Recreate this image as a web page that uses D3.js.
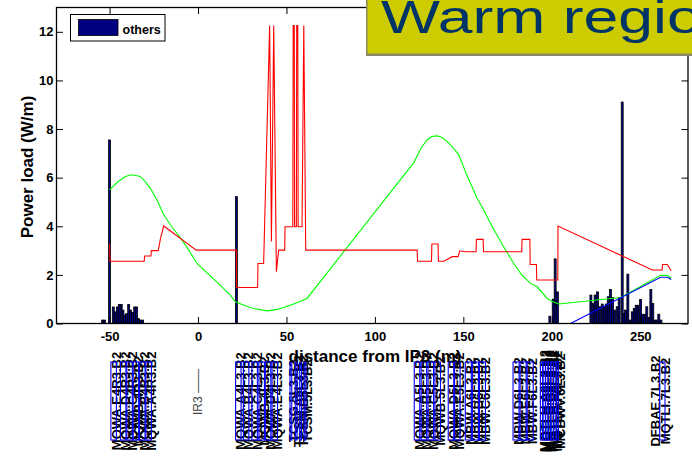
<!DOCTYPE html>
<html><head><meta charset="utf-8">
<script src="https://cdn.jsdelivr.net/npm/d3@7"></script>
<style>
body{margin:0;background:#fff;}
svg{display:block;font-family:"Liberation Sans",Arial,Helvetica,sans-serif;}
</style></head><body>
<svg id="chart" width="692" height="457"></svg>
<script>
// Axis ticks
const xTicks = [-50, 0, 50, 100, 150, 200, 250];
const yTicks = [0, 2, 4, 6, 8, 10, 12];

// Red curve: stepwise power load profile (s in m, W/m)
const redS = [-50, -49.8, -30.4, -30.2, -26.6, -26.4, -22.5, -21.2, -19.4, -1, 21.7, 21.8, 33.7, 33.9, 37.1,
  40.5, 41.5, 42.8, 44.3, 45.6, 49.0, 49.2, 53.6, 53.8, 54.4, 54.6, 55.6, 55.8, 56.4, 56.6, 58.8, 59.8, 60.9,
  123.9, 124.1, 132.0, 132.2, 135.7, 135.9, 139.0, 143.7, 147.0, 148.0, 151.2, 157.2, 157.4, 161.2, 161.4,
  183.0, 183.2, 187.6, 187.8, 191.3, 191.5, 203.4, 203.5, 256.8, 262.4, 262.6, 265.3, 267.5];
const redLoad = [3.27, 2.56, 2.56, 2.78, 2.78, 3.0, 3.0, 3.5, 4.01, 3.02, 3.02, 1.48, 1.48, 2.47, 2.47,
  12.26, 3.37, 12.26, 2.13, 3.02, 3.02, 3.98, 3.98, 12.26, 12.26, 3.98, 3.98, 12.26, 12.26, 3.98, 3.98, 12.26, 3.02,
  3.02, 2.56, 2.56, 3.27, 3.27, 2.56, 2.56, 2.75, 2.75, 2.99, 2.95, 2.95, 3.46, 3.46, 2.95,
  2.95, 3.46, 3.46, 2.43, 2.43, 1.79, 1.79, 4.01, 2.2, 2.2, 2.43, 2.43, 2.17];

// Green curve
const greenS = [-50, -45, -41, -38, -34.5, -32.6, -30, -27, -23, -19.4, -15, -10.4, -5, -0.6, 10, 18.3, 21.1,
  26, 31.5, 39, 44.7, 52.2, 57, 61.6, 122, 126, 129.5, 132.5, 135.2, 138, 140.8, 144, 147.4, 152, 157.8,
  161.5, 165.3, 172, 178.5, 183, 188, 191.7, 197.4, 200, 204, 239, 261.5, 265.5, 267.5];
const greenVal = [5.5, 5.85, 6.05, 6.12, 6.08, 6.05, 5.85, 5.57, 5.05, 4.47, 4.0, 3.57, 3.0, 2.47, 1.75, 1.17, 0.89,
  0.75, 0.62, 0.52, 0.58, 0.75, 0.88, 1.03, 6.62, 7.2, 7.56, 7.7, 7.72, 7.65, 7.49, 7.25, 6.94, 6.1, 5.15,
  4.67, 4.12, 3.25, 2.47, 2.0, 1.65, 1.51, 1.03, 0.92, 0.8, 1.07, 1.98, 1.98, 1.86];

// Blue curve
const blueS = [210.6, 261.5, 265.5, 267.5];
const blueVal = [0, 1.9, 1.9, 1.81];

// Histogram of "others" losses
const barS = [-53.9, -52.8, -50.0, -47.9, -46.8, -45.6, -44.5, -43.4, -42.4, -41.5, -40.4, -39.2, -38.1, -37.0,
  -35.8, -34.7, -33.6, -32.5, -31.3, 21.7, 198.9, 200.8, 201.9, 203.2,
  222.1, 223.4, 224.5, 225.8, 227.2, 228.5, 229.6, 230.8, 231.9, 233.2, 234.3, 235.6, 237.0, 238.1, 239.8,
  240.7, 241.7, 243.0, 244.3, 245.5, 246.6, 247.7, 248.8, 250.2, 251.3, 252.6, 253.7, 254.9, 256.0, 257.1,
  258.3, 259.4, 260.5, 261.7];
const barLoad = [0.14, 0.14, 7.55, 0.68, 0.48, 0.68, 0.78, 0.78, 0.55, 0.34, 0.4, 0.78, 0.55, 0.45,
  0.68, 0.68, 0.2, 0.14, 0.14, 5.22, 0.3, 1.0, 2.66, 1.3,
  1.17, 0.82, 1.17, 1.3, 0.69, 0.8, 0.69, 0.8, 1.1, 1.4, 1.07, 0.55, 0.69, 1.07, 9.11,
  0.41, 0.55, 2.03, 0.14, 0.48, 0.62, 0.75, 0.75, 0.99, 0.38, 0.38, 0.69, 0.25, 1.4, 0.82,
  0.14, 0.14, 0.38, 0.14];
const barWidth = 1.1;

// Beamline elements shown under the axis
const elementNames = ["MQWA.E4R3.B2", "MQWA.D4R3.B2", "MQWA.C4R3.B2", "MQWB.4R3.B2", "MQWA.B4R3.B2", "MQWA.A4R3.B2",
  "MQWA.A4L3.B2", "MQWA.B4L3.B2", "MQWA.C4L3.B2", "MQWB.4L3.B2", "MQWA.D4L3.B2", "MQWA.E4L3.B2",
  "TCSG.5L3.B2", "TCSM.A5L3.B2", "TCSM.B5L3.B2", "TCSM.5L3.B2",
  "MQWA.A5L3.B2", "MQWA.B5L3.B2", "MQWA.C5L3.B2", "MQWB.5L3.B2", "MQWA.D5L3.B2", "MQWA.E5L3.B2",
  "MBW.A6L3.B2", "MBW.B6L3.B2", "MBW.C6L3.B2", "MBW.D6L3.B2", "MBW.E6L3.B2", "MBW.F6L3.B2",
  "MQTLH.A6L3.B2", "MQTLH.B6L3.B2", "MQTLH.C6L3.B2", "MQTLH.D6L3.B2", "MQTLH.E6L3.B2", "MQTLH.F6L3.B2", "MCBWV.6L3.B2",
  "DFBAE.7L3.B2", "MQTLI.7L3.B2"];
const elementS = [-47.7, -42.3, -38.7, -35.1, -31.5, -27.9,
  22.8, 27.2, 32.0, 36.0, 39.6, 43.4,
  52.5, 55.5, 58.0, 60.5,
  123.8, 127.7, 131.6, 135.5, 143.0, 146.6,
  152.8, 156.8, 160.8, 179.8, 183.8, 187.8,
  194.2, 195.7, 197.2, 198.7, 200.2, 201.7, 203.2,
  257.0, 262.5];
const elementLen = [3.1, 3.1, 3.1, 3.1, 3.1, 3.1,
  3.1, 3.1, 3.1, 3.1, 3.1, 3.1,
  1.0, 1.0, 1.0, 1.0,
  3.1, 3.1, 3.1, 3.1, 3.1, 3.1,
  3.4, 3.4, 3.4, 3.4, 3.4, 3.4,
  1.3, 1.3, 1.3, 1.3, 1.3, 1.3, 1.0,
  0, 3.0];

const svg = d3.select("#chart");
const W = 692, H = 457;
const x = d3.scaleLinear().domain([-80, 277]).range([56.5, 688]);
const y = d3.scaleLinear().domain([0, 13]).range([323.5, 7.5]);
const x0 = x.range()[0], x1 = x.range()[1], y0 = y.range()[0], y1 = y.range()[1];

svg.append("rect").attr("width", W).attr("height", H).attr("fill", "#fff");

svg.append("defs").append("clipPath").attr("id", "plotClip")
  .append("rect").attr("x", x0).attr("y", y1).attr("width", x1 - x0).attr("height", y0 - y1);

const plot = svg.append("g").attr("clip-path", "url(#plotClip)");

// bars
plot.append("g").selectAll("rect").data(barS.map((s, i) => ({ s, v: barLoad[i] })))
  .join("rect")
  .attr("x", d => x(d.s - barWidth / 2))
  .attr("width", d => x(d.s + barWidth / 2) - x(d.s - barWidth / 2))
  .attr("y", d => y(d.v))
  .attr("height", d => y(0) - y(d.v))
  .attr("fill", "#000080")
  .attr("stroke", "#000")
  .attr("stroke-width", 0.8);

const line = d3.line().x(d => x(d[0])).y(d => y(d[1]));
function drawLine(sArr, vArr, color) {
  plot.append("path").datum(sArr.map((s, i) => [s, vArr[i]]))
    .attr("d", line).attr("fill", "none").attr("stroke", color).attr("stroke-width", 1.1)
    .attr("stroke-linejoin", "miter");
}
drawLine(greenS, greenVal, "#00ff00");
drawLine(blueS, blueVal, "#0000ff");
drawLine(redS, redLoad, "#ff0000");

// axes frame and ticks
const axes = svg.append("g");
axes.append("rect").attr("x", x0).attr("y", y1).attr("width", x1 - x0).attr("height", y0 - y1)
  .attr("fill", "none").attr("stroke", "#000").attr("stroke-width", 1.3);

const tickLen = 6.5;
const xAxisB = d3.axisBottom(x).tickValues(xTicks).tickSize(-tickLen).tickPadding(8).tickFormat(d3.format("d"));
const xAxisT = d3.axisTop(x).tickValues(xTicks).tickSize(-tickLen).tickFormat("");
const yAxisL = d3.axisLeft(y).tickValues(yTicks).tickSize(-tickLen).tickPadding(3).tickFormat(d3.format("d"));
const yAxisR = d3.axisRight(y).tickValues(yTicks).tickSize(-tickLen).tickFormat("");

function styleAxis(g) {
  g.select(".domain").remove();
  g.selectAll(".tick line").attr("stroke", "#000").attr("stroke-width", 1);
  g.selectAll(".tick text").attr("fill", "#000").attr("font-size", 13).attr("font-weight", "bold")
    .attr("font-family", "'Liberation Sans', Arial, sans-serif");
}
axes.append("g").attr("transform", `translate(0,${y0})`).call(xAxisB).call(styleAxis)
  .selectAll(".tick text").text(d => d < 0 ? "-" + Math.abs(d) : d);
axes.append("g").attr("transform", `translate(0,${y1})`).call(xAxisT).call(styleAxis);
axes.append("g").attr("transform", `translate(${x0},0)`).call(yAxisL).call(styleAxis);
axes.append("g").attr("transform", `translate(${x1},0)`).call(yAxisR).call(styleAxis);

// element labels and outlines
const elements = elementNames.map((n, i) => ({ n, s: elementS[i], L: elementLen[i] }));
const elG = svg.append("g");
elG.selectAll("text").data(elements).join("text")
  .attr("transform", d => `translate(${x(d.s + 1.5)},401) rotate(-90)`)
  .attr("text-anchor", "middle").attr("dominant-baseline", "central")
  .attr("font-size", 13).attr("font-weight", "bold").attr("fill", "#000")
  .text(d => d.n);
elG.selectAll("rect").data(elements.filter(d => d.L > 0)).join("rect")
  .attr("x", d => x(d.s - d.L / 2)).attr("width", d => x(d.s + d.L / 2) - x(d.s - d.L / 2))
  .attr("y", 362).attr("height", 78)
  .attr("fill", "none").attr("stroke", "#0000ff").attr("stroke-width", 1.1);

svg.append("text")
  .attr("transform", `translate(${x(0)},392) rotate(-90)`)
  .attr("text-anchor", "middle").attr("dominant-baseline", "central")
  .attr("font-size", 12).attr("fill", "#444").text("IR3 ——");

// axis titles
svg.append("text").attr("x", 375).attr("y", 362).attr("text-anchor", "middle")
  .attr("font-size", 17).attr("font-weight", "bold").attr("fill", "#000")
  .text("distance from IP3 (m)");
svg.append("text").attr("transform", "translate(33,167) rotate(-90)").attr("text-anchor", "middle")
  .attr("font-size", 17).attr("font-weight", "bold").attr("fill", "#000")
  .text("Power load (W/m)");

// legend
const lg = svg.append("g");
lg.append("rect").attr("x", 70.5).attr("y", 14.5).attr("width", 94.5).attr("height", 26.5)
  .attr("fill", "#fff").attr("stroke", "#000").attr("stroke-width", 1);
lg.append("rect").attr("x", 78.5).attr("y", 19.5).attr("width", 39.5).attr("height", 16)
  .attr("fill", "#000080").attr("stroke", "#000").attr("stroke-width", 0.8);
lg.append("text").attr("x", 122.5).attr("y", 33.5).attr("font-size", 12.5).attr("font-weight", "bold")
  .attr("fill", "#000").text("others");

// title banner (runs past the right edge of the page)
const tb = svg.append("g");
tb.append("rect").attr("x", 366).attr("y", -10).attr("width", 340).attr("height", 66)
  .attr("fill", "#8a8a66");
tb.append("rect").attr("x", 367.5).attr("y", -10).attr("width", 340).attr("height", 63.5)
  .attr("fill", "#cccc00");
tb.append("text").attr("transform", "translate(381,33) scale(1.33,1)")
  .attr("font-size", 47).attr("fill", "#003366")
  .attr("font-family", "'Liberation Sans', Arial, sans-serif")
  .text("Warm region");
</script></body></html>
